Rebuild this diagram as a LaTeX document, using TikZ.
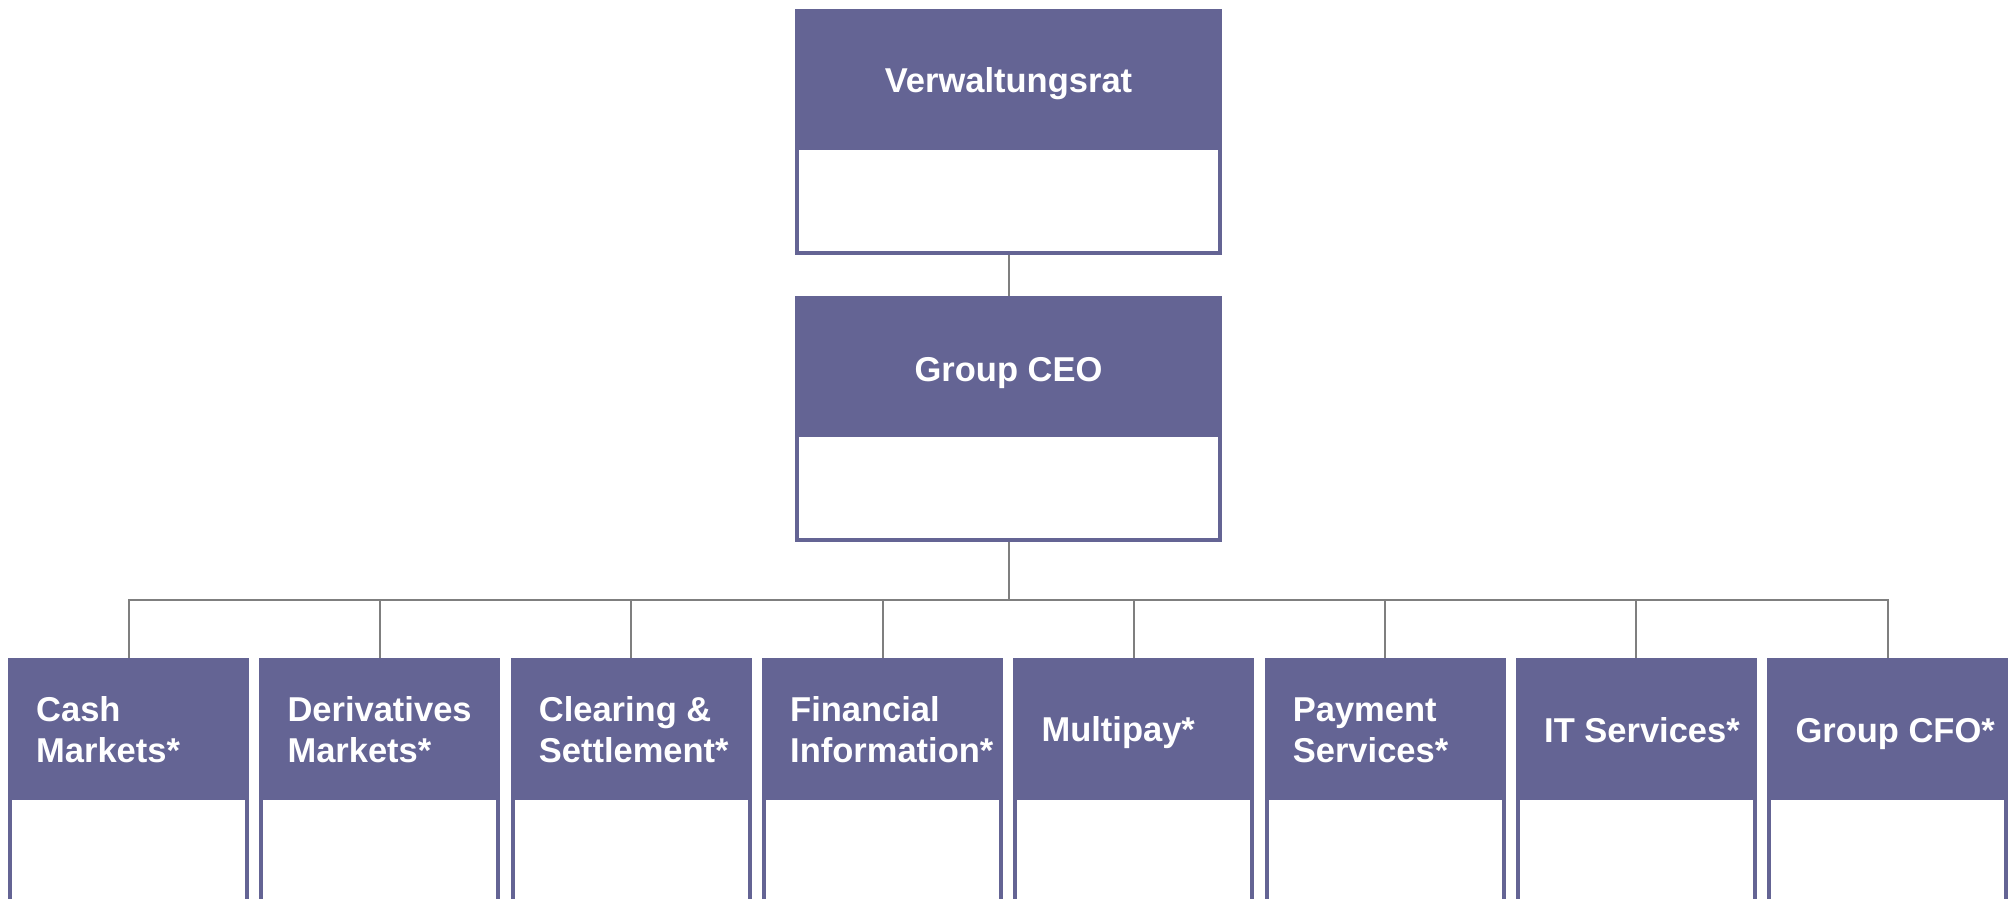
\documentclass[tikz,border=0pt]{standalone}
\usepackage{fontspec}
\setmainfont{Liberation Sans}
\usetikzlibrary{calc}
\definecolor{hdr}{HTML}{646494}
\definecolor{conncol}{HTML}{7F7F7F}
\tikzset{
  orgbox/.style={rectangle, fill=hdr, draw=none, inner sep=0pt, outer sep=0pt, anchor=north west},
  lbl/.style={text=white, font=\bfseries\fontsize{34.5}{41}\selectfont, inner sep=0pt},
  link/.style={draw=conncol, line width=2pt},
}
\begin{document}
\begin{tikzpicture}[x=1pt,y=1pt]
\useasboundingbox (0,0) rectangle (2011,899);
\clip (0,0) rectangle (2011,899);
% top box
\node[orgbox, minimum width=427, minimum height=246] (vr) at (795,890) {};
\fill[white] ($(vr.north west)+(4,-141)$) rectangle ($(vr.south east)+(-4,4)$);
\node[lbl, anchor=base] (vrt) at (1008.5,806) {Verwaltungsrat};
% CEO box
\node[orgbox, minimum width=427, minimum height=246] (ceo) at (795,603) {};
\fill[white] ($(ceo.north west)+(4,-141)$) rectangle ($(ceo.south east)+(-4,4)$);
\node[lbl, anchor=base] (ceot) at (1008.5,517) {Group CEO};
% bus
\coordinate (bus) at (1008.5,299);
\draw[link] (vr.south) -- (ceo.north);
\draw[link] (ceo.south) -- (bus);
% bottom boxes
\foreach \i/\by/\lbltext in {0/177/{Cash\\Markets*},1/177/{Derivatives\\Markets*},2/177/{Clearing \&\\Settlement*},3/177/{Financial\\Information*},4/157/{Multipay*},5/177/{Payment\\Services*},6/156/{IT Services*},7/156/{Group CFO*}}{
  \node[orgbox, minimum width=241, minimum height=300] (b\i) at ({8+\i*251.33},241) {};
  \fill[white] ($(b\i.north west)+(4,-142)$) rectangle ($(b\i.south east)+(-4,4)$);
  \node[lbl, anchor=base west] (t\i) at ({8+\i*251.33+28},\by) {\parbox[t]{225pt}{\raggedright\lbltext}};
  \draw[link] (b\i.north) |- (bus);
}
\end{tikzpicture}
\end{document}
